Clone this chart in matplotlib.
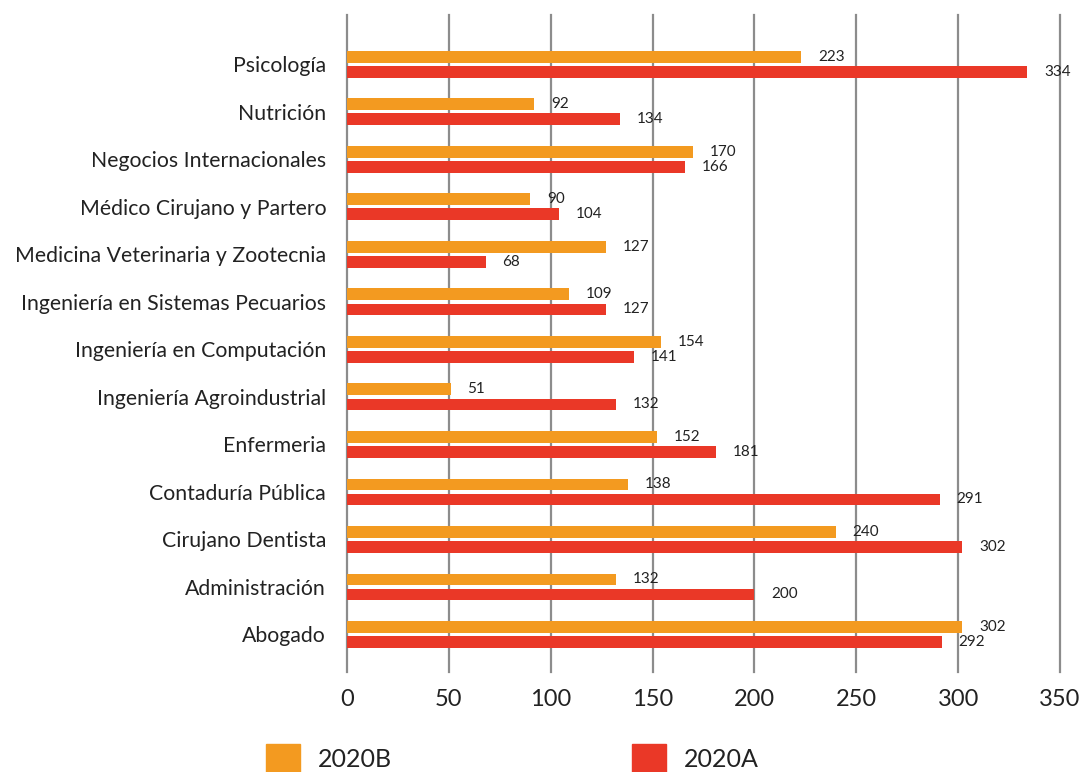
import matplotlib
matplotlib.use("Agg")
import matplotlib.pyplot as plt
import matplotlib.patches as mpatches
import numpy as np

# carreras, de arriba hacia abajo como en la figura
carreras = ["Psicología", "Nutrición", "Negocios Internacionales",
            "Médico Cirujano y Partero", "Medicina Veterinaria y Zootecnia",
            "Ingeniería en Sistemas Pecuarios", "Ingeniería en Computación",
            "Ingeniería Agroindustrial", "Enfermeria", "Contaduría Pública",
            "Cirujano Dentista", "Administración", "Abogado"]
v2020B = [223, 92, 170, 90, 127, 109, 154, 51, 152, 138, 240, 132, 302]
v2020A = [334, 134, 166, 104, 68, 127, 141, 132, 181, 291, 302, 200, 292]
xticks = [0, 50, 100, 150, 200, 250, 300, 350]

naranja = "#F39A20"
rojo = "#EA3827"
texto = "#222222"

plt.rcParams['font.family'] = ['Lato', 'DejaVu Sans']

fig = plt.figure(figsize=(10.82, 7.72), dpi=100)
ax = fig.add_axes([347/1082, 1 - 672/772, (1060-347)/1082, (672-15)/772])

n = len(carreras)
y = np.arange(n)[::-1]
h = 0.25
off = 0.158

barsB = ax.barh(y + off, v2020B, height=h, color=naranja, zorder=3)
barsA = ax.barh(y - off, v2020A, height=h, color=rojo, zorder=3)

for bars, vals in ((barsB, v2020B), (barsA, v2020A)):
    for b, v in zip(bars, vals):
        ax.annotate(str(v), (v, b.get_y() + b.get_height()/2),
                    xytext=(12, 0), textcoords="offset points",
                    ha="left", va="center", fontsize=11, color=texto, zorder=4)

ax.set_xlim(0, 350)
ax.set_ylim(-0.79, n - 1 + 1.04)
ax.set_xticks(xticks)
ax.set_xticklabels([str(t) for t in xticks], fontsize=17, color=texto)
ax.set_yticks(y)
ax.set_yticklabels(carreras, fontsize=15.3, color=texto)
ax.tick_params(axis="both", length=0)
ax.tick_params(axis="x", pad=12)
ax.tick_params(axis="y", pad=15)
for s in ax.spines.values():
    s.set_visible(False)
ax.grid(axis="x", color="#8c8c8c", linewidth=1.6, zorder=0)
ax.grid(axis="y", visible=False)
ax.set_axisbelow(True)
for gl in ax.get_xgridlines():
    gl.set_clip_on(False)

handles = [mpatches.Patch(color=naranja, label="2020B"),
           mpatches.Patch(color=rojo, label="2020A")]
fig.legend(handles=handles, loc="lower left", bbox_to_anchor=(266/1082, 0.0),
           ncol=2, frameon=False, fontsize=18, handlelength=1.36,
           handleheight=1.32, handletextpad=0.72, columnspacing=9.6,
           borderpad=0.0, borderaxespad=0.0, labelcolor=texto)

fig.savefig("out.png", dpi=100, facecolor="white")
